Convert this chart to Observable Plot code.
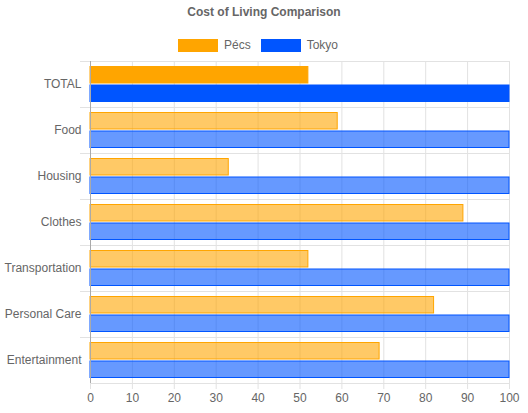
<!DOCTYPE html>
<html><head><meta charset="utf-8">
<script src="https://cdn.jsdelivr.net/npm/d3@7"></script>
<script src="https://cdn.jsdelivr.net/npm/@observablehq/plot@0.6"></script>
<style>
body{margin:0;background:#fff;font-family:"Liberation Sans",Arial,sans-serif;}
#wrap{width:528px;position:relative;}
#head{height:55px;position:relative;}
#title{position:absolute;top:5px;left:0;width:528px;text-align:center;font-weight:bold;font-size:12px;color:#666;}
#legend{position:absolute;top:38px;left:178px;display:flex;font-size:12px;color:#666;}
.item{display:flex;align-items:center;margin-right:10px;}
.sw{width:38px;height:11px;border:1px solid;margin-right:6px;}
svg{display:block;}
</style></head><body>
<div id="wrap">
<div id="head">
<div id="title">Cost of Living Comparison</div>
<div id="legend"></div>
</div>
<div id="chart"></div>
</div>
<script>
const categories = ["TOTAL","Food","Housing","Clothes","Transportation","Personal Care","Entertainment"];
const pecs = [52, 59, 33, 89, 52, 82, 69];
const tokyo = [100, 100, 100, 100, 100, 100, 100];
const seriesNames = ["Pécs","Tokyo"];
const seriesColors = ["#FFA500","#0055FF"];
const xTicks = [0,10,20,30,40,50,60,70,80,90,100];

const legend = document.getElementById("legend");
seriesNames.forEach((n,i)=>{
  const it=document.createElement("div");it.className="item";
  const sw=document.createElement("div");sw.className="sw";
  sw.style.background=seriesColors[i];sw.style.borderColor=seriesColors[i];
  const t=document.createElement("span");t.textContent=n;
  it.appendChild(sw);it.appendChild(t);legend.appendChild(it);
});

const data = categories.map((c,i)=>({category:c, pecs:pecs[i], tokyo:tokyo[i], op: i===0?1:0.6}));
const band = 46;
const chart = Plot.plot({
  width: 528, height: 358,
  marginTop: 6, marginBottom: 30, marginLeft: 90, marginRight: 19,
  style:{fontFamily:"Liberation Sans, Arial, sans-serif", fontSize:"12px", color:"#666"},
  x:{domain:[0,100], ticks: xTicks},
  y:{domain: categories, padding: 0},
  marks:[
    Plot.ruleX(xTicks, {x:d=>d, stroke:"#e2e2e2", strokeOpacity:1}),
    Plot.ruleY(categories, {y:d=>d, dy:-band/2, x1:-10*100/419, x2:100, stroke:"#e2e2e2"}),
    Plot.ruleY([categories[categories.length-1]], {y:d=>d, dy:band/2, x1:0, x2:100, stroke:"#e2e2e2"}),
    Plot.barX(data, {y:"category", x:"pecs", fill:seriesColors[0], fillOpacity:"op", stroke:seriesColors[0], strokeWidth:1, insetTop:5.5, insetBottom:24}),
    Plot.barX(data, {y:"category", x:"tokyo", fill:seriesColors[1], fillOpacity:"op", stroke:seriesColors[1], strokeWidth:1, insetTop:24, insetBottom:5.5}),
    Plot.ruleX([0], {stroke:"#aaa"}),
    Plot.axisX({anchor:"bottom", ticks:xTicks, tickSize:6, tickPadding:4, stroke:"#e2e2e2", fill:"#666", label:null, fontSize:12}),
    Plot.axisY({anchor:"left", tickSize:0, tickPadding:9, fill:"#666", label:null, fontSize:12})
  ]
});
document.getElementById("chart").appendChild(chart);
</script>
</body></html>
